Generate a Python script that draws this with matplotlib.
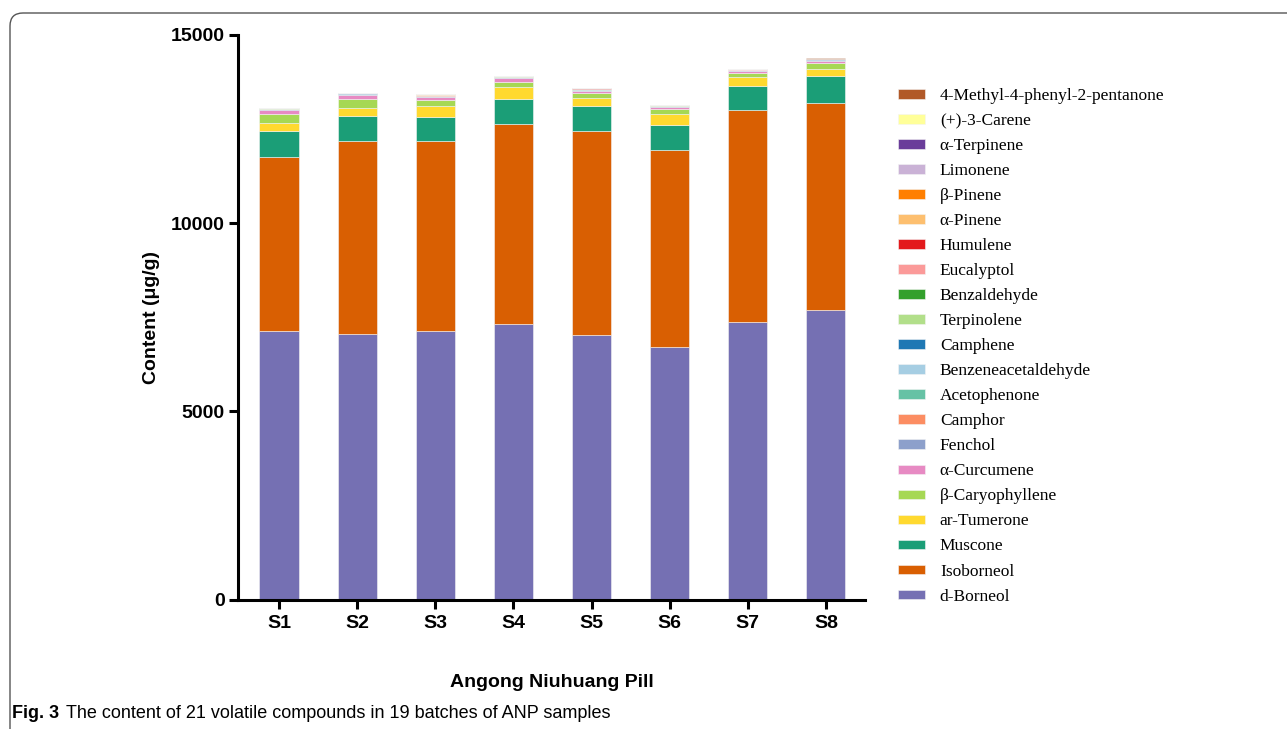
import matplotlib
matplotlib.use("Agg")
import numpy as np
import matplotlib.pyplot as plt
from matplotlib.patches import FancyBboxPatch

# Batches on the x axis
samples = ["S1", "S2", "S3", "S4", "S5", "S6", "S7", "S8"]

# Content of each compound (ug/g), stacked bottom to top
d_borneol = [7145, 7049, 7129, 7331, 7038, 6703, 7376, 7703]
isoborneol = [4609, 5130, 5050, 5316, 5415, 5253, 5627, 5502]
muscone = [691, 680, 646, 648, 672, 648, 646, 702]
ar_tumerone = [220, 213, 300, 319, 213, 309, 247, 186]
b_caryophyllene = [235, 231, 144, 141, 117, 117, 107, 159]
a_curcumene = [103, 107, 96, 99, 61, 53, 37, 61]
fenchol = [22, 20, 21, 22, 20, 22, 20, 21]
camphor = [8, 7, 7, 8, 14, 8, 7, 7]
acetophenone = [5, 4, 4, 5, 5, 5, 4, 4]
benzeneacetaldehyde = [3, 3, 3, 3, 4, 3, 3, 3]
camphene = [4, 4, 4, 4, 5, 4, 4, 4]
terpinolene = [4, 3, 4, 4, 5, 4, 3, 3]
benzaldehyde = [3, 2, 3, 3, 3, 3, 2, 2]
eucalyptol = [4, 3, 3, 4, 5, 4, 3, 3]
humulene = [2, 2, 2, 2, 2, 2, 2, 2]
a_pinene = [3, 3, 3, 3, 4, 3, 3, 3]
b_pinene = [2, 2, 2, 2, 3, 2, 2, 2]
limonene = [4, 4, 4, 4, 5, 4, 4, 4]
a_terpinene = [1, 1, 1, 1, 1, 1, 1, 1]
carene = [1, 1, 1, 1, 1, 1, 1, 1]
methyl_phenyl_pentanone = [3, 2, 2, 3, 3, 3, 2, 3]

compounds = [
    ("d-Borneol", d_borneol, "#7570b3"),
    ("Isoborneol", isoborneol, "#d95f02"),
    ("Muscone", muscone, "#1b9e77"),
    ("ar-Tumerone", ar_tumerone, "#ffd92f"),
    ("β-Caryophyllene", b_caryophyllene, "#a6d854"),
    ("α-Curcumene", a_curcumene, "#e78ac3"),
    ("Fenchol", fenchol, "#8da0cb"),
    ("Camphor", camphor, "#fc8d62"),
    ("Acetophenone", acetophenone, "#66c2a5"),
    ("Benzeneacetaldehyde", benzeneacetaldehyde, "#a6cee3"),
    ("Camphene", camphene, "#1f78b4"),
    ("Terpinolene", terpinolene, "#b2df8a"),
    ("Benzaldehyde", benzaldehyde, "#33a02c"),
    ("Eucalyptol", eucalyptol, "#fb9a99"),
    ("Humulene", humulene, "#e31a1c"),
    ("α-Pinene", a_pinene, "#fdbf6f"),
    ("β-Pinene", b_pinene, "#ff7f00"),
    ("Limonene", limonene, "#cab2d6"),
    ("α-Terpinene", a_terpinene, "#6a3d9a"),
    ("(+)-3-Carene", carene, "#ffff99"),
    ("4-Methyl-4-phenyl-2-pentanone", methyl_phenyl_pentanone, "#b15928"),
]

W, H = 1287, 729
fig = plt.figure(figsize=(W / 100, H / 100), dpi=100)
ax = fig.add_axes([238 / W, 1 - 599.5 / H, (865 - 238) / W, (599.5 - 35) / H])

x = np.arange(len(samples))
bottom = np.zeros(len(samples))
for name, vals, color in compounds:
    ax.bar(x, vals, width=0.5, bottom=bottom, color=color, label=name,
           edgecolor="#f4f4f4", linewidth=0.4)
    bottom += np.array(vals)

bold = {"family": "Liberation Sans", "weight": "bold"}
ax.set_xlim(-0.525, 7.5)
ax.set_ylim(0, 15000)
ax.set_yticks([0, 5000, 10000, 15000])
ax.set_xticks(x)
ax.set_xticklabels(samples, fontdict=bold, fontsize=14)
ax.set_yticklabels(["0", "5000", "10000", "15000"], fontdict=bold, fontsize=14)
ax.tick_params(width=2.2, length=6.5, pad=3)
ax.tick_params(axis="x", pad=5)
for side in ("top", "right"):
    ax.spines[side].set_visible(False)
for side in ("left", "bottom"):
    ax.spines[side].set_linewidth(2.2)

ax.set_ylabel("Content (μg/g)", fontdict=bold, fontsize=14, labelpad=8)
ax.set_xlabel("Angong Niuhuang Pill", fontdict=bold, fontsize=14, labelpad=30)

handles, labels = ax.get_legend_handles_labels()
ax.legend(handles[::-1], labels[::-1], loc="upper left",
          bbox_to_anchor=(898 / W, 1 - 88 / H), bbox_transform=fig.transFigure,
          frameon=False, prop={"family": "Liberation Serif", "size": 12.5},
          handlelength=1.55, handleheight=0.46, handletextpad=0.86,
          labelspacing=0.52, borderaxespad=0, borderpad=0)

# rounded frame around the figure panel
frame = FancyBboxPatch((10, -60), 1500, H - 13 + 60, transform=None,
                       boxstyle="round,pad=0,rounding_size=13",
                       facecolor="none", edgecolor="#555555", linewidth=1.0)
fig.add_artist(frame)

fig.text(12 / W, 1 - 713 / H, "Fig. 3", fontsize=13, fontweight="bold",
         family="Liberation Sans", va="center")
fig.text(66 / W, 1 - 713 / H,
         "The content of 21 volatile compounds in 19 batches of ANP samples",
         fontsize=13, family="Liberation Sans", va="center")

fig.savefig("out.png", dpi=100)
